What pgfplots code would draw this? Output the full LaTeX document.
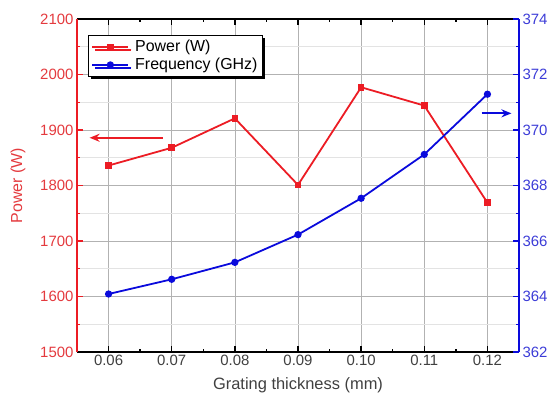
\documentclass[border=0pt]{standalone}
\usepackage{pgfplots}
\pgfplotsset{compat=1.18}
\usepackage{fontspec}
\setmainfont{Liberation Sans}
\usetikzlibrary{shadows,arrows.meta}
\definecolor{pred}{RGB}{236,28,36}
\definecolor{pblue}{RGB}{10,10,220}
\definecolor{predt}{RGB}{228,58,62}
\definecolor{pbluet}{RGB}{60,60,215}
\pgfplotstableread{
x power
0.06 1836
0.07 1868
0.08 1921
0.09 1801
0.10 1977
0.11 1944
0.12 1769
}\powertab
\pgfplotstableread{
x freq
0.06 364.09
0.07 364.62
0.08 365.23
0.09 366.23
0.10 367.54
0.11 369.12
0.12 371.29
}\freqtab
\begin{document}
\begin{tikzpicture}[font=\fontsize{15}{17}\selectfont]
\path[use as bounding box] (-77bp,-51bp) rectangle (475bp,352bp);
\pgfplotsset{
  common/.style={
    at={(0,0)}, anchor=south west,
    scale only axis, width=442bp, height=333bp,
    xmin=0.055, xmax=0.125,
    /pgf/number format/assume math mode=true,
    /pgf/number format/1000 sep={},
    major tick length=6bp, minor tick length=3bp,
    tick style={line width=1.3pt},
    tick align=inside,
    ticklabel style={font=\fontsize{15}{17}\selectfont},
  }
}
\begin{axis}[common,
  axis x line=box, axis y line*=left,
  ymin=1500, ymax=2100,
  xtick={0.06,0.07,0.08,0.09,0.10,0.11,0.12},
  minor x tick num=1,
  ytick={1500,1600,1700,1800,1900,2000,2100},
  minor y tick num=1,
  xtick pos=both, xticklabel pos=bottom,
  xticklabel style={text=black!75, /pgf/number format/.cd, fixed, fixed zerofill, precision=2},
  xmajorgrids, ymajorgrids, yminorgrids,
  major grid style={gray!60, line width=0.6pt},
  minor grid style={gray!22, line width=0.6pt},
  x axis line style={black, line width=1.6pt},
  y axis line style={pred, line width=1.6pt},
  ytick style={pred, line width=1.3pt},
  xtick style={black, line width=1.3pt},
  yticklabel style={text=predt},
  xlabel={Grating thickness (mm)},
  ylabel={Power (W)},
  xlabel style={at={(rel axis cs:0.5,0)}, anchor=center, yshift=-33bp, text=black!75, font=\fontsize{16.5}{18}\selectfont},
  ylabel style={at={([xshift=-59bp]rel axis cs:0,0.5)}, anchor=center, rotate=0, text=predt, font=\fontsize{16}{18}\selectfont},
]
\addplot[pred, line width=1.8pt, mark=square*, mark size=2.4bp] table[x=x,y=power]{\powertab};
\draw[pred, line width=1.8pt, -{Stealth[length=10bp,width=8bp]}] (axis cs:0.0686,1886) -- (axis cs:0.0570,1886);
\end{axis}
\begin{axis}[common,
  axis x line=none, axis y line*=right,
  ymin=362, ymax=374,
  ytick={362,364,366,368,370,372,374},
  minor y tick num=1,
  y axis line style={pblue, line width=1.6pt},
  ytick style={pblue, line width=1.3pt},
  yticklabel style={text=pbluet},
  legend cell align=left,
  legend style={at={(rel axis cs:0.025,0.952)}, anchor=north west,
    draw=black, line width=0.8pt, fill=white,
    drop shadow={shadow xshift=3bp, shadow yshift=-3bp, fill=black, opacity=1},
    font=\fontsize{16}{18}\selectfont, row sep=1bp, inner sep=3bp,
    /tikz/every odd column/.append style={column sep=4bp}},
  legend image code/.code={\draw[#1, line width=1.8pt] (-2bp,0bp) -- (34bp,0bp); \path[#1, mark repeat=1] plot coordinates {(16bp,0bp)};},
]
\addlegendimage{pred, line width=1.8pt, mark=square*, mark size=2.4bp}
\addlegendentry{Power (W)}
\addplot[pblue, line width=1.8pt, mark=*, mark size=2.7bp] table[x=x,y=freq]{\freqtab};
\addlegendentry{Frequency (GHz)}
\draw[pblue, line width=1.8pt, -{Stealth[length=10bp,width=8bp]}] (axis cs:0.1191,370.6) -- (axis cs:0.1238,370.6);
\end{axis}
\end{tikzpicture}
\end{document}
